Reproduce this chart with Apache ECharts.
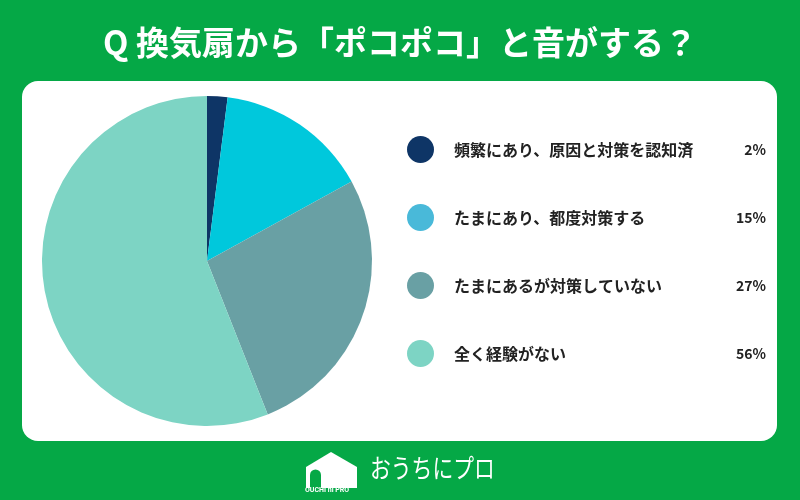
<!DOCTYPE html>
<html><head><meta charset="utf-8">
<script src="https://cdn.jsdelivr.net/npm/echarts@6/dist/echarts.min.js"></script>
<style>html,body{margin:0;padding:0;background:#05a846;}#c{width:800px;height:500px;}</style>
</head><body><div id="c"></div>
<script>
const titleText = 'Q 換気扇から「ポコポコ」と音がする？';
const categories = ['頻繁にあり、原因と対策を認知済', 'たまにあり、都度対策する', 'たまにあるが対策していない', '全く経験がない'];
const values = [2, 15, 27, 56];
const sliceColors = ['#0e3566', '#00c8dc', '#69a0a4', '#7dd4c4'];
const legendColors = ['#0e3566', '#49b9d9', '#69a0a4', '#7dd4c4'];
const logoText = 'おうちにプロ';
const logoSub = 'OUCHI ni PRO';

const font = '"Noto Sans CJK JP", "Noto Sans", sans-serif';
const green = '#05a846';
const chart = echarts.init(document.getElementById('c'), null, {renderer: 'canvas'});
const pctMap = {};
categories.forEach((c, i) => pctMap[c] = values[i] + '%');

chart.setOption({
  backgroundColor: green,
  animation: false,
  title: {
    text: titleText, left: 'center', top: 21,
    textStyle: {color: '#fff', fontSize: 33, fontWeight: 'bold', fontFamily: font}
  },
  graphic: [
    {type: 'rect', z: 0, shape: {x: 22, y: 81, width: 755, height: 360, r: 16}, style: {fill: '#ffffff'}},
    {type: 'polygon', z: 1,
     shape: {points: [[306,488],[306,467],[331,452],[357,467],[357,488]]},
     style: {fill: '#ffffff'}},
    {type: 'rect', z: 2, shape: {x: 310, y: 475, width: 11, height: 13}, style: {fill: green}},
    {type: 'circle', z: 2, shape: {cx: 315.5, cy: 475, r: 5.5}, style: {fill: green}},
    {type: 'text', z: 3, left: 305, top: 487, style: {text: logoSub, fill: '#ffffff', font: 'bold 7px "Roboto", sans-serif'}},
    {type: 'text', z: 3, x: 370, y: 455, scaleX: 0.8, style: {text: logoText, fill: '#ffffff', font: '26px ' + font}}
  ],
  legend: {
    orient: 'vertical', left: 402, top: 131, itemGap: 41, itemWidth: 27, itemHeight: 27,
    icon: 'circle',
    data: categories.map((c, i) => ({name: c, itemStyle: {color: legendColors[i]}})),
    formatter: name => '{n|' + name + '}{p|' + pctMap[name] + '}',
    textStyle: {
      fontFamily: font,
      rich: {
        n: {width: 272, fontSize: 16, fontWeight: 'bold', color: '#222', fontFamily: font, padding: [0,0,0,15]},
        p: {width: 40, align: 'right', fontSize: 14, fontWeight: 'bold', color: '#222', fontFamily: font}
      }
    }
  },
  series: [{
    type: 'pie', center: [207, 261], radius: 165, startAngle: 90, clockwise: true,
    label: {show: false}, labelLine: {show: false},
    itemStyle: {borderWidth: 0},
    emphasis: {disabled: true},
    data: categories.map((c, i) => ({name: c, value: values[i], itemStyle: {color: sliceColors[i]}}))
  }]
});
</script></body></html>
